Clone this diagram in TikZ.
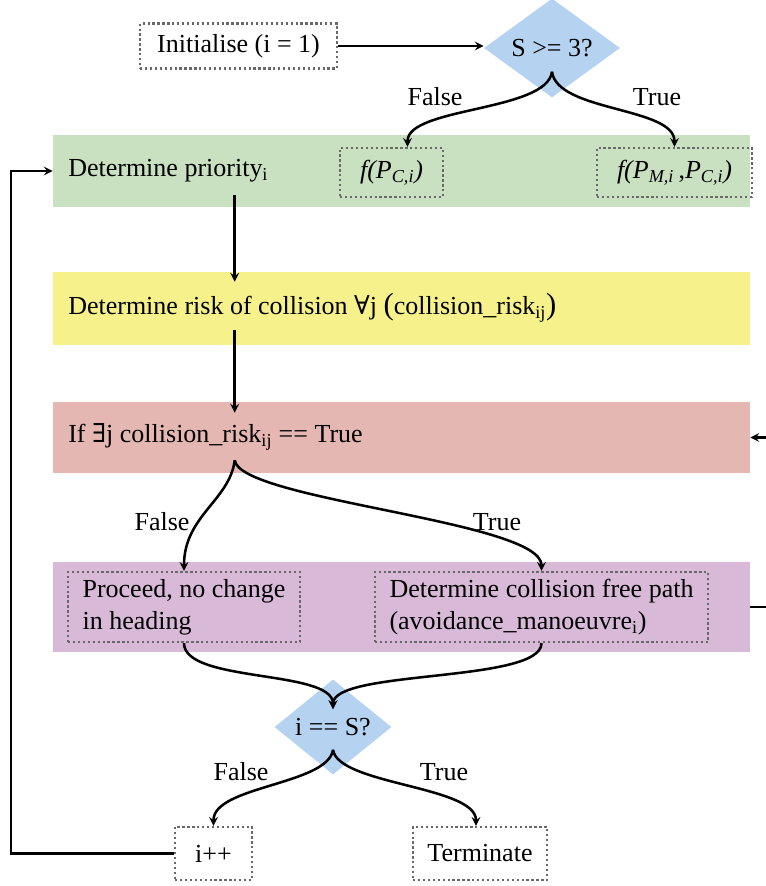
\documentclass[tikz,border=0pt]{standalone}
\usepackage{fontspec}
\setmainfont{Liberation Serif}
\newfontfamily\symfont{DejaVu Serif}
\usetikzlibrary{shapes.geometric}
\definecolor{bandGreen}{RGB}{201,224,193}
\definecolor{bandYellow}{RGB}{246,241,139}
\definecolor{bandRed}{RGB}{228,183,178}
\definecolor{bandPurple}{RGB}{216,185,215}
\definecolor{decisionBlue}{RGB}{181,211,240}
\definecolor{dotGrey}{RGB}{105,105,105}

\begin{document}
\begin{tikzpicture}[x=0.75pt, y=-0.75pt, font=\fontsize{19.5}{24}\selectfont]
            % Styles
            \tikzstyle{band} = [rectangle, minimum width=522.75pt, inner sep=0pt]
            \tikzstyle{bandtext} = [anchor=west, inner sep=0pt]
            \tikzstyle{box} = [rectangle, draw=dotGrey, dotted, line width=1.7pt, inner sep=0pt]
            \tikzstyle{decision} = [diamond, fill=decisionBlue, inner sep=0pt]
            \tikzstyle{branchtext} = [inner sep=0pt]
            \tikzstyle{arrow} = [->, >=stealth, line width=1.9pt]

            \useasboundingbox (0,0) rectangle (766,886);
            \clip (0,0) rectangle (766,886);

            % Bands
            \node[band, fill=bandGreen, minimum height=54pt] (green) at (401.5,171) {};
            \node[band, fill=bandYellow, minimum height=54.75pt] (yellow) at (401.5,308.5) {};
            \node[band, fill=bandRed, minimum height=53.25pt] (red) at (401.5,437.5) {};
            \node[band, fill=bandPurple, minimum height=67.5pt] (purple) at (401.5,607) {};

            % Nodes
            \node[box, minimum width=147.75pt, minimum height=33.75pt] (init) at (238.5,46) {Initialise (i = 1)};
            \node[decision, minimum width=102pt, minimum height=72pt] (sgeq) at (552,48) {S >= 3?};
            \node[bandtext] (prio) at (68,171) {Determine priority\textsubscript{i}};
            \node[box, minimum width=77.25pt, minimum height=36.75pt] (fpc) at (391.5,172.5) {\textit{f(P}\textsubscript{\textit{C,i}}\textit{)}};
            \node[box, minimum width=116.25pt, minimum height=36.75pt] (fpm) at (674.5,172.5) {\textit{f(P}\textsubscript{\textit{M,i}}\,,\textit{P}\textsubscript{\textit{C,i}}\textit{)}};
            \node[bandtext] (risk) at (68,308) {Determine risk of collision {\symfont ∀}j {\fontsize{23}{23}\selectfont(}collision\_risk\textsubscript{ij}{\fontsize{23}{23}\selectfont)}};
            \node[bandtext] (check) at (68,437) {If {\symfont ∃}j collision\_risk\textsubscript{ij} == True};
            \node[box, align=left, minimum width=174pt, minimum height=52.5pt] (proceed) at (184,607) {Proceed, no change\\in heading};
            \node[box, align=left, minimum width=249.75pt, minimum height=52.5pt] (avoid) at (541.5,607) {Determine collision free path\\(avoidance\_manoeuvre\textsubscript{i})};
            \node[decision, minimum width=87.75pt, minimum height=71.25pt] (last) at (333,727) {i == S?};
            \node[box, minimum width=57.75pt, minimum height=39.75pt] (inc) at (213.5,853.5) {i++};
            \node[box, minimum width=100.5pt, minimum height=39.75pt] (stop) at (480,853.5) {Terminate};
            \coordinate (loopin) at (780,437.5);
            \coordinate (loopout) at (780,607);

            % Labels
            \node[branchtext] (sfalse) at (435,97) {False};
            \node[branchtext] (strue) at (657,97) {True};
            \node[branchtext] (rfalse) at (162,522) {False};
            \node[branchtext] (rtrue) at (497,522) {True};
            \node[branchtext] (lfalse) at (241,772) {False};
            \node[branchtext] (ltrue) at (444,772) {True};

            % Arrows
            \draw[arrow] (init.east) -- (init.east -| sgeq.west);
            \draw[arrow] ([yshift=19.5pt]sgeq.south) .. controls +(-5,40) and +(0,-40) .. ([xshift=12pt]fpc.north);
            \draw[arrow] ([yshift=19.5pt]sgeq.south) .. controls +(5,40) and +(0,-40) .. (fpm.north);
            \draw[arrow] ([xshift=136.5pt, yshift=9pt]green.south west) -- ([xshift=136.5pt, yshift=-7.5pt]yellow.north west);
            \draw[arrow] ([xshift=136.5pt, yshift=11.25pt]yellow.south west) -- ([xshift=136.5pt, yshift=-8.25pt]red.north west);
            \draw[arrow] ([xshift=136.5pt, yshift=9.75pt]red.south west) .. controls +(-5,40) and +(0,-55) .. (proceed.north);
            \draw[arrow] ([xshift=136.5pt, yshift=9.75pt]red.south west) .. controls +(5,40) and +(0,-50) .. (avoid.north);
            \draw[arrow] (proceed.south) .. controls +(0,40) and +(0,-40) .. ([yshift=-22.5pt]last.north);
            \draw[arrow] (avoid.south) .. controls +(0,40) and +(0,-40) .. ([yshift=-22.5pt]last.north);
            \draw[arrow] ([yshift=18.75pt]last.south) .. controls +(-5,35) and +(0,-40) .. (inc.north);
            \draw[arrow] ([yshift=18.75pt]last.south) .. controls +(5,35) and +(0,-40) .. ([xshift=-3pt]stop.north);
            \draw[arrow] (inc.west) -- ++(-163,0) |- (green.west);
            \draw[arrow] (loopin) -- (red.east);
            \draw[line width=1.9pt] (purple.east) -- (loopout);
        \end{tikzpicture}
\end{document}
